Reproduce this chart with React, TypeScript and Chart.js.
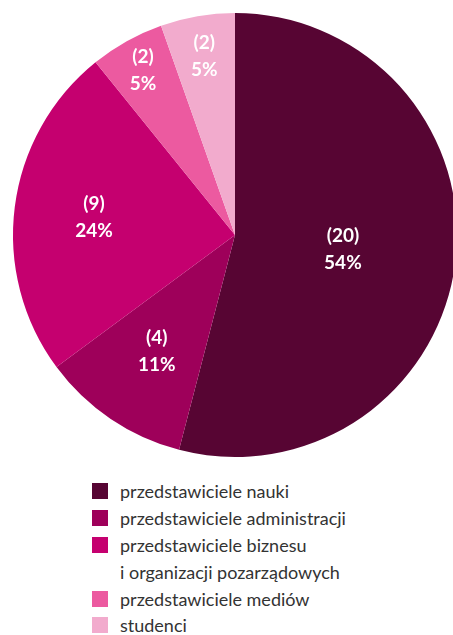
import React, { useEffect, useRef } from "react";
import { Chart, registerables } from "chart.js";

Chart.register(...registerables);

const categories = [
  "przedstawiciele nauki",
  "przedstawiciele administracji",
  "przedstawiciele biznesu\ni organizacji pozarządowych",
  "przedstawiciele mediów",
  "studenci",
];
const counts = [20, 4, 9, 2, 2];
const percentLabels = ["54%", "11%", "24%", "5%", "5%"];
const colors = ["#570533", "#9e005a", "#c5006f", "#ec5aa0", "#f2abcd"];
const labelRadiusFraction = [0.49, 0.63, 0.64, 0.85, 0.82];

const FONT = "Lato, 'Open Sans', sans-serif";

const labelPlugin = {
  id: "sliceLabels",
  afterDatasetsDraw(chart: any) {
    const ctx = chart.ctx;
    const meta = chart.getDatasetMeta(0);
    ctx.save();
    ctx.fillStyle = "#ffffff";
    ctx.font = `bold 19px ${FONT}`;
    ctx.textAlign = "center";
    ctx.textBaseline = "middle";
    meta.data.forEach((arc: any, i: number) => {
      const { x, y, startAngle, endAngle, outerRadius } = arc.getProps(
        ["x", "y", "startAngle", "endAngle", "outerRadius"],
        true
      );
      const mid = (startAngle + endAngle) / 2;
      const r = outerRadius * labelRadiusFraction[i];
      const cx = x + Math.cos(mid) * r;
      const cy = y + Math.sin(mid) * r;
      ctx.fillText(`(${counts[i]})`, cx, cy - 13);
      ctx.fillText(percentLabels[i], cx, cy + 14);
    });
    ctx.restore();
  },
};

export default function App() {
  const ref = useRef<HTMLCanvasElement | null>(null);

  useEffect(() => {
    if (!ref.current) return;
    const chart = new Chart(ref.current, {
      type: "pie",
      data: {
        labels: categories,
        datasets: [
          {
            data: counts,
            backgroundColor: colors,
            borderWidth: 0,
          },
        ],
      },
      options: {
        animation: false,
        responsive: false,
        maintainAspectRatio: false,
        layout: { padding: 13 },
        plugins: {
          legend: { display: false },
          tooltip: { enabled: false },
        },
      },
      plugins: [labelPlugin],
    });
    return () => chart.destroy();
  }, []);

  return (
    <div
      style={{
        position: "absolute",
        left: 0,
        top: 0,
        width: 453,
        height: 635,
        overflow: "hidden",
        background: "#ffffff",
      }}
    >
      <canvas
        ref={ref}
        width={470}
        height={470}
        style={{ position: "absolute", left: 0, top: 0, width: 470, height: 470 }}
      />
      <div
        style={{
          position: "absolute",
          left: 92,
          top: 478,
          fontFamily: FONT,
          fontSize: 18,
          color: "#333333",
        }}
      >
        {categories.map((c, i) => {
          const lines = c.split("\n");
          return (
            <div key={i}>
              {lines.map((line, j) => (
                <div
                  key={j}
                  style={{ display: "flex", alignItems: "center", height: 26.8 }}
                >
                  <span
                    style={{
                      display: "inline-block",
                      width: 16,
                      height: 16,
                      background: j === 0 ? colors[i] : "transparent",
                      marginRight: 12,
                    }}
                  />
                  <span style={{ whiteSpace: "nowrap" }}>{line}</span>
                </div>
              ))}
            </div>
          );
        })}
      </div>
    </div>
  );
}
